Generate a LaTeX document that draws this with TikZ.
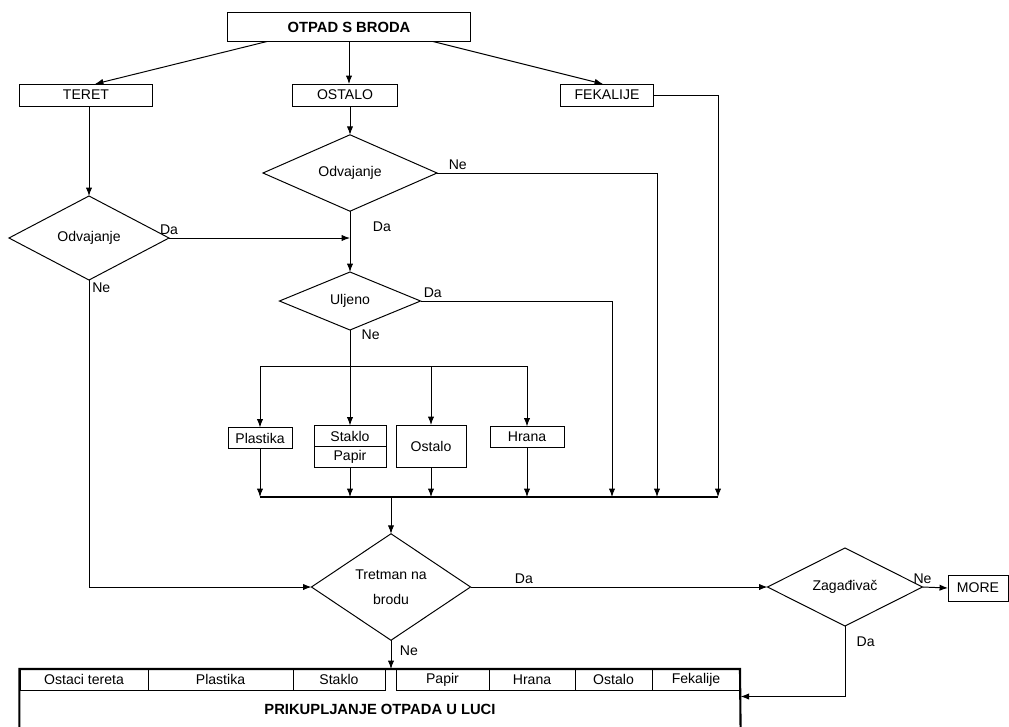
\documentclass[tikz,border=0pt]{standalone}
\usepackage{fontspec}
\setmainfont{Liberation Sans}
\usetikzlibrary{shapes.geometric,calc,arrows.meta}

\begin{document}
\begin{tikzpicture}[x=0.025cm,y=-0.025cm,line width=0.7pt,
    font=\fontsize{10}{12}\selectfont,
    kutija/.style={draw,rectangle,inner sep=0pt,outer sep=0pt},
    pitanje/.style={draw,diamond,inner sep=0pt,outer sep=0pt},
    strelica/.style={-{Latex[length=6pt,width=4.5pt]}},
    oznaka/.style={inner sep=2pt}]
\useasboundingbox (0,0) rectangle (1009,726);
\node[kutija,minimum width=6.05cm,minimum height=0.725cm,font=\fontsize{10.5}{12}\bfseries] (otpad) at (349,27) {OTPAD S BRODA};
\node[kutija,minimum width=3.3cm,minimum height=0.55cm] (teret) at (86,95) {TERET};
\node[kutija,minimum width=2.6cm,minimum height=0.55cm] (ostalo) at (345,95) {OSTALO};
\node[kutija,minimum width=2.325cm,minimum height=0.55cm] (fekalije) at (607,95) {FEKALIJE};
\node[pitanje,minimum width=4cm,minimum height=2.1cm] (odvL) at (89,238) {Odvajanje};
\node[pitanje,minimum width=4.35cm,minimum height=1.9cm] (odvU) at (350,173) {Odvajanje};
\node[pitanje,minimum width=3.525cm,minimum height=1.45cm] (uljeno) at (350,301) {Uljeno};
\node[kutija,minimum width=1.6cm,minimum height=0.525cm] (plastika) at (260,438) {Plastika};
\node[kutija,minimum width=1.8cm,minimum height=0.525cm] (staklo) at (350,436) {Staklo};
\node[kutija,minimum width=1.8cm,minimum height=0.525cm,anchor=north] (papir) at (staklo.south) {Papir};
\node[kutija,minimum width=1.75cm,minimum height=1.05cm] (ostalo2) at (431,446) {Ostalo};
\node[kutija,minimum width=1.85cm,minimum height=0.525cm] (hrana) at (527,437) {Hrana};
\node[pitanje,minimum width=3.975cm,minimum height=2.3cm,align=center,font=\fontsize{10}{18}\selectfont] (tretman) at (391,587) {Tretman na\\brodu};
\node[pitanje,minimum width=3.875cm,minimum height=1.95cm] (zag) at (845,587) {Zagađivač};
\node[kutija,minimum width=1.5cm,minimum height=0.65cm] (more) at (978,588) {MORE};
\foreach \tekst/\lijevo/\desno [count=\i] in {Ostaci tereta/20/148,Plastika/148/293,Staklo/293/385,Papir/396/489,Hrana/489/575,Ostalo/575/652,Fekalije/652/740}
    \node[kutija,minimum width={(\desno-\lijevo)*0.025cm},minimum height=0.525cm] (celija\i) at ({(\lijevo+\desno)/2},679.5) {\tekst};
\node[inner sep=0pt,minimum width=18cm,minimum height=0.95cm,font=\fontsize{10.5}{12}\bfseries] (luka) at (380,709) {PRIKUPLJANJE OTPADA U LUCI};
\draw[line width=1.5pt] (luka.south west) |- (celija7.north east) -- (luka.south east);

\coordinate (razdjel) at (350,366);
\coordinate (sabir) at (391,497);
\coordinate (fekdolje) at (718,497);
\coordinate (nedolje) at (657,497);
\coordinate (dadolje) at (612,497);

\draw[strelica] ($(otpad.south west)+(39,0)$) -- ($(teret.north)+(9,0)$);
\draw[strelica] (otpad.south) -- (otpad.south |- ostalo.north);
\draw[strelica] ($(otpad.south east)+(-37,0)$) -- ($(fekalije.north)+(-4,0)$);
\draw[strelica] (teret.south -| odvL.north) -- (odvL.north);
\draw[strelica] (ostalo.south -| odvU.north) -- (odvU.north);
\draw[strelica] (fekalije.east) -| (fekdolje);
\draw[strelica] (odvU.east) node[oznaka,above right,xshift=6pt] {Ne} -| (nedolje);
\draw[strelica] (odvU.south) -- node[oznaka,pos=.26,right=14pt] {Da} (uljeno.north);
\draw[strelica] (odvL.east) node[oznaka,above] {Da} -- (odvL.east -| uljeno.north);
\draw[strelica] (odvL.south) node[oznaka,below right] {Ne} |- (tretman.west);
\draw[strelica] (uljeno.east) node[oznaka,above right] {Da} -| (dadolje);
\draw (uljeno.south) -- node[oznaka,pos=.14,right=6pt] {Ne} (razdjel);
\draw (plastika.north |- razdjel) -- (hrana.north |- razdjel);
\foreach \kut in {plastika,staklo,ostalo2,hrana}
    \draw[strelica] (\kut.north |- razdjel) -- (\kut.north);
\foreach \kut in {plastika,papir,ostalo2,hrana}
    \draw[strelica] (\kut.south) -- (\kut.south |- sabir);
\draw[line width=1pt] (plastika.south |- sabir) -- (fekdolje);
\draw[strelica] (sabir) -- (tretman.north);
\draw[strelica] (tretman.east) -- node[oznaka,pos=.18,above] {Da} (zag.west);
\draw[strelica] (zag.east) node[oznaka,above] {Ne} -- (more.west);
\draw[strelica] (zag.south) |- node[oznaka,pos=.11,right=6pt] {Da} ($(luka.north east)+(0,7)$);
\draw[strelica] (tretman.south) -- node[oznaka,pos=.38,right=4pt] {Ne} (tretman.south |- celija1.north);
\end{tikzpicture}
\end{document}
